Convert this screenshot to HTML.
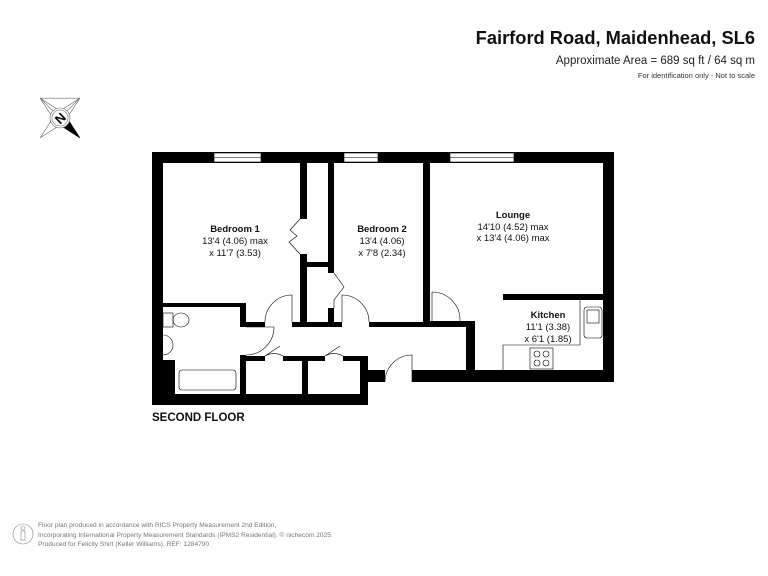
<!DOCTYPE html>
<html><head><meta charset="utf-8"><style>
html,body{margin:0;padding:0;background:#fff;width:768px;height:576px;overflow:hidden}
svg text{font-family:"Liberation Sans",Arial,sans-serif}
</style></head><body>
<svg width="768" height="576" viewBox="0 0 768 576" xmlns="http://www.w3.org/2000/svg">
<rect width="768" height="576" fill="#fff"/>
<text x="755" y="44" text-anchor="end" font-size="18.3" font-weight="bold" fill="#111">Fairford Road, Maidenhead, SL6</text>
<text x="755" y="64" text-anchor="end" font-size="11.5" fill="#222">Approximate Area = 689 sq ft / 64 sq m</text>
<text x="755" y="78" text-anchor="end" font-size="7.5" fill="#333">For identification only - Not to scale</text>

<!-- compass -->
<g transform="translate(60,118) rotate(-45)" stroke="#666" stroke-width="0.6" fill="none">
<polygon points="0,-28 5,-5 28,0 5,5 0,28 -5,5 -28,0 -5,-5"/>
<polygon points="0,-28 0,0 28,0" />
<polygon points="-5,5 0,28 5,5 0,9" fill="#000" stroke="#000"/>
<circle r="10" fill="#fff"/><circle r="8"/>
</g>
<text x="60" y="123" text-anchor="middle" font-size="13" font-weight="bold" transform="rotate(-45 60 118)">N</text>

<g fill="#000">
<rect x="152" y="152" width="462" height="11"/>
<rect x="152" y="152" width="11" height="253"/>
<rect x="152" y="360" width="23" height="45"/>
<rect x="152" y="394" width="216" height="11"/>
<rect x="360" y="357" width="8" height="48"/>
<rect x="360" y="370" width="25" height="12"/>
<rect x="412" y="370" width="202" height="12"/>
<rect x="603" y="152" width="11" height="230"/>
<rect x="300" y="163" width="7" height="56"/>
<rect x="300" y="254" width="7" height="70"/>
<rect x="328" y="163" width="6" height="110"/>
<rect x="328" y="308" width="6" height="16"/>
<rect x="300" y="262" width="34" height="5"/>
<rect x="423" y="163" width="7" height="164"/>
<rect x="292" y="322" width="50" height="5"/>
<rect x="369" y="322" width="61" height="5"/>
<rect x="163" y="303" width="82" height="4"/>
<rect x="240" y="303" width="6" height="24"/>
<rect x="240" y="322" width="25" height="5"/>
<rect x="240" y="355" width="6" height="40"/>
<rect x="246" y="356" width="19" height="5"/>
<rect x="283" y="356" width="42" height="5"/>
<rect x="343" y="356" width="25" height="5"/>
<rect x="302" y="356" width="6" height="39"/>
<rect x="430" y="321" width="45" height="6"/>
<rect x="466" y="321" width="9" height="50"/>
<rect x="503" y="294" width="100" height="6"/>
</g>
<g fill="#fff" stroke="#000" stroke-width="0.6">
<rect x="214" y="153" width="47" height="9"/>
<rect x="344" y="153" width="34" height="9"/>
<rect x="450" y="153" width="64" height="9"/>
</g>
<g stroke="#000" stroke-width="0.6" fill="none">
<line x1="214" y1="157.5" x2="261" y2="157.5"/><line x1="344" y1="157.5" x2="378" y2="157.5"/><line x1="450" y1="157.5" x2="514" y2="157.5"/>
<path d="M265,322 A27,27 0 0 1 292,295 L292,322"/>
<path d="M369,322 A27,27 0 0 0 342,295 L342,322"/>
<path d="M246,327 L274,327 A28,28 0 0 1 246,355"/>
<path d="M265,356 A18,18 0 0 1 283,356 M265,356 L280,346"/>
<path d="M325,356 A18,18 0 0 1 343,356 M325,356 L340,346"/>
<path d="M385,382 A27,27 0 0 1 412,355 L412,382"/>
<path d="M432,292 A28,28 0 0 1 460,321 M432,292 L432,321"/>
<path d="M300,219 L290,230 L297,236 L289,242 L300,254"/>
<path d="M334,273 L344,287 L334,300 L334,308"/>
<path d="M580,300 L580,345 L503,345 L503,370"/>
<rect x="584" y="307" width="18" height="31" rx="3"/>
<rect x="587" y="310" width="12" height="13"/>
<rect x="530" y="348" width="23" height="21"/>
<circle cx="537" cy="354" r="3"/><circle cx="546" cy="354" r="3"/><circle cx="537" cy="363" r="3"/><circle cx="546" cy="363" r="3"/>
<rect x="179" y="370" width="57" height="20" rx="3"/>
<rect x="163" y="313" width="10" height="14"/>
<ellipse cx="181" cy="320" rx="8" ry="7"/>
<path d="M163,335 A10,10 0 0 1 163,355"/>
</g>
<g font-size="9.5" fill="#111" text-anchor="middle">
<text x="235" y="232" font-weight="bold">Bedroom 1</text>
<text x="235" y="244">13'4 (4.06) max</text>
<text x="235" y="256">x 11'7 (3.53)</text>
<text x="382" y="232" font-weight="bold">Bedroom 2</text>
<text x="382" y="244">13'4 (4.06)</text>
<text x="382" y="256">x 7'8 (2.34)</text>
<text x="513" y="218" font-weight="bold">Lounge</text>
<text x="513" y="230">14'10 (4.52) max</text>
<text x="513" y="241">x 13'4 (4.06) max</text>
<text x="548" y="318" font-weight="bold">Kitchen</text>
<text x="548" y="330">11'1 (3.38)</text>
<text x="548" y="342">x 6'1 (1.85)</text>
</g>
<text x="152" y="421" font-size="11.5" font-weight="bold" fill="#111">SECOND FLOOR</text>

<g fill="#777" font-size="6.6">
<text x="38" y="527">Floor plan produced in accordance with RICS Property Measurement 2nd Edition,</text>
<text x="38" y="537">Incorporating International Property Measurement Standards (IPMS2 Residential).   © nichecom 2025.</text>
<text x="38" y="546">Produced for Felicity Shirt (Keller Williams).   REF: 1284790</text>
</g>
<g stroke="#888" stroke-width="0.6" fill="none">
<circle cx="23" cy="534" r="10"/><circle cx="23" cy="528" r="2"/><rect x="21" y="531" width="4" height="9"/>
</g>
</svg>
</body></html>
